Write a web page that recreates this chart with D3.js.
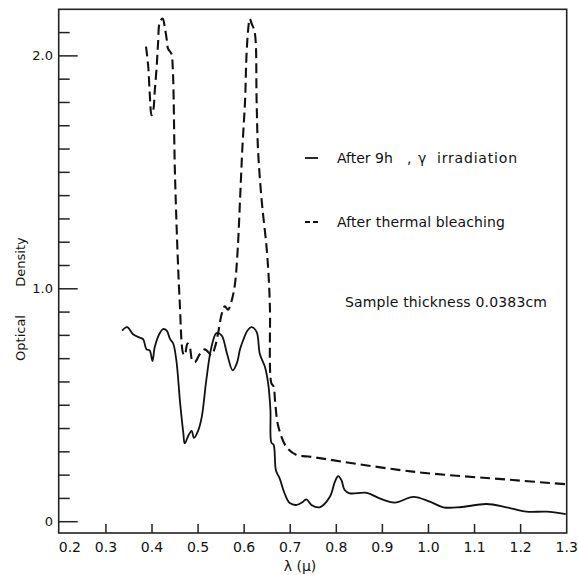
<!DOCTYPE html>
<html>
<head>
<meta charset="utf-8">
<script src="https://cdn.jsdelivr.net/npm/d3@7"></script>
<style>
  body { margin: 0; background: #fff; }
  text { font-family: "DejaVu Sans", sans-serif; fill: #111; }
</style>
</head>
<body>
<div id="chart"></div>
<script>
// Optical density vs wavelength
var gammaLambda = [0.335,0.346,0.359,0.374,0.381,0.388,0.395,0.401,0.406,0.417,0.424,0.432,0.439,0.446,0.453,0.461,0.468,0.471,0.479,0.486,0.491,0.500,0.508,0.518,0.529,0.540,0.551,0.563,0.575,0.584,0.591,0.598,0.607,0.616,0.627,0.634,0.645,0.652,0.657,0.659,0.664,0.669,0.677,0.688,0.699,0.714,0.728,0.735,0.746,0.764,0.786,0.797,0.804,0.811,0.818,0.829,0.866,0.894,0.927,0.967,1.003,1.032,1.068,1.126,1.169,1.213,1.256,1.298];
var gammaOD     = [0.82,0.835,0.805,0.79,0.783,0.74,0.735,0.69,0.75,0.81,0.827,0.82,0.785,0.765,0.69,0.51,0.38,0.336,0.37,0.39,0.36,0.39,0.45,0.61,0.75,0.81,0.80,0.72,0.65,0.68,0.74,0.78,0.82,0.835,0.815,0.72,0.665,0.595,0.48,0.34,0.33,0.22,0.186,0.12,0.08,0.072,0.086,0.096,0.072,0.062,0.107,0.172,0.196,0.179,0.136,0.122,0.124,0.100,0.082,0.107,0.086,0.062,0.062,0.076,0.062,0.043,0.043,0.033];

var bleachLambda = [0.387,0.392,0.395,0.399,0.403,0.406,0.410,0.413,0.417,0.423,0.428,0.432,0.435,0.442,0.445,0.450,0.460,0.468,0.471,0.477,0.482,0.487,0.493,0.504,0.515,0.529,0.536,0.544,0.551,0.558,0.565,0.573,0.580,0.586,0.591,0.596,0.602,0.605,0.609,0.612,0.616,0.623,0.627,0.630,0.638,0.649,0.654,0.656,0.659,0.664,0.667,0.674,0.692,0.714,0.739,0.966,1.183,1.298];
var bleachOD     = [2.04,1.95,1.84,1.745,1.77,1.85,1.95,2.05,2.145,2.16,2.12,2.07,2.03,2.01,1.95,1.48,0.95,0.72,0.715,0.765,0.75,0.695,0.685,0.72,0.74,0.715,0.745,0.815,0.89,0.925,0.91,0.95,1.02,1.17,1.38,1.6,1.81,2.0,2.12,2.16,2.14,2.10,1.81,1.6,1.38,1.17,1.02,0.91,0.595,0.58,0.52,0.41,0.32,0.286,0.28,0.215,0.179,0.161];

var xTickLabels = ["0.2","0.3","0.4","0.5","0.6","0.7","0.8","0.9","1.0","1.1","1.2","1.3"];
var yLabelValues = [0, 1, 2];
var yLabels = ["0", "1.0", "2.0"];

var width = 578, height = 575;
var plotL = 58.7, plotR = 566.7, plotT = 9.3, plotB = 533;

var x = d3.scaleLinear().domain([0.1975, 1.3]).range([plotL, plotR]);
var y = d3.scaleLinear().domain([-0.0485, 2.2]).range([plotB, plotT]);

var svg = d3.select("#chart").append("svg")
    .attr("width", width)
    .attr("height", height);

// frame
svg.append("rect")
    .attr("x", plotL).attr("y", plotT)
    .attr("width", plotR - plotL).attr("height", plotB - plotT)
    .attr("fill", "none").attr("stroke", "#222").attr("stroke-width", 1.6);

// x ticks (upward from the axis)
var xTicks = d3.range(3, 13).map(function(d){ return d / 10; });
svg.append("g").selectAll("line")
    .data(xTicks)
    .enter().append("line")
    .attr("x1", function(d){ return x(d); })
    .attr("x2", function(d){ return x(d); })
    .attr("y1", plotB).attr("y2", plotB - 9)
    .attr("stroke", "#222").attr("stroke-width", 1.5);

svg.append("g").selectAll("text")
    .data(xTickLabels)
    .enter().append("text")
    .attr("x", function(d, i){ return i === 0 ? x(+d) + 10 : x(+d); })
    .attr("y", 552)
    .attr("text-anchor", "middle")
    .style("font-size", "14px")
    .text(function(d){ return d; });

// y ticks, minor every 0.1, long at whole numbers
var yTicks = d3.range(0, 22).map(function(d){ return d / 10; });
svg.append("g").selectAll("line")
    .data(yTicks)
    .enter().append("line")
    .attr("x1", plotL)
    .attr("x2", function(d){ return plotL + (Math.abs(d - Math.round(d)) < 1e-6 ? 19 : 11); })
    .attr("y1", function(d){ return y(d); })
    .attr("y2", function(d){ return y(d); })
    .attr("stroke", "#222").attr("stroke-width", 1.5);

svg.append("g").selectAll("text")
    .data(yLabelValues)
    .enter().append("text")
    .attr("x", 53)
    .attr("y", function(d){ return y(d) + 4.5; })
    .attr("text-anchor", "end")
    .style("font-size", "13px")
    .text(function(d, i){ return yLabels[i]; });

// axis titles
svg.append("text")
    .attr("transform", "translate(25,338) rotate(-90)")
    .attr("text-anchor", "middle")
    .style("font-size", "13px")
    .text("Optical");
svg.append("text")
    .attr("transform", "translate(25,262) rotate(-90)")
    .attr("text-anchor", "middle")
    .style("font-size", "13px")
    .text("Density");
svg.append("text")
    .attr("x", 300).attr("y", 571)
    .attr("text-anchor", "middle")
    .style("font-size", "14px")
    .text("λ (μ)");

// curves
var line = d3.line()
    .x(function(d){ return x(d[0]); })
    .y(function(d){ return y(d[1]); })
    .curve(d3.curveCatmullRom.alpha(0.5));

svg.append("path")
    .attr("d", line(d3.zip(gammaLambda, gammaOD)))
    .attr("fill", "none").attr("stroke", "#111").attr("stroke-width", 1.8);

svg.append("path")
    .attr("d", line(d3.zip(bleachLambda, bleachOD)))
    .attr("fill", "none").attr("stroke", "#111").attr("stroke-width", 2.1)
    .attr("stroke-dasharray", "10,5");

// legend
svg.append("line")
    .attr("x1", 305).attr("x2", 318).attr("y1", 158).attr("y2", 158)
    .attr("stroke", "#111").attr("stroke-width", 1.8);
var lg = svg.append("text")
    .attr("y", 163)
    .style("font-size", "14px");
lg.append("tspan").attr("x", 337).text("After 9h");
lg.append("tspan").attr("x", 407).text(",");
lg.append("tspan").attr("x", 418).text("γ");
lg.append("tspan").attr("x", 437).attr("textLength", 80).text("irradiation");

svg.append("line")
    .attr("x1", 305).attr("x2", 318).attr("y1", 222).attr("y2", 222)
    .attr("stroke", "#111").attr("stroke-width", 2)
    .attr("stroke-dasharray", "5,3");
svg.append("text")
    .attr("x", 337).attr("y", 227)
    .style("font-size", "14px")
    .attr("textLength", 168)
    .text("After thermal bleaching");

svg.append("text")
    .attr("x", 345).attr("y", 307)
    .style("font-size", "14px")
    .attr("textLength", 202)
    .text("Sample thickness 0.0383cm");
</script>
</body>
</html>
